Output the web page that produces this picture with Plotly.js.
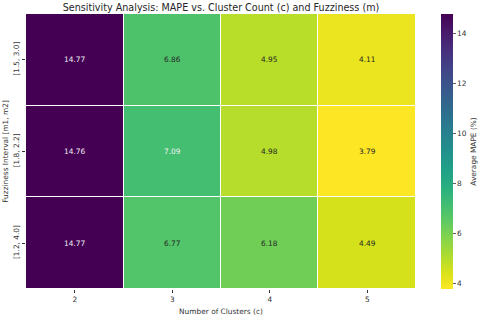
<!DOCTYPE html>
<html><head><meta charset="utf-8">
<script src="https://cdn.plot.ly/plotly-3.0.1.min.js"></script>
<style>html,body{margin:0;padding:0;background:#fff}#plot{width:480px;height:316px}</style>
</head><body><div id="plot"></div>
<script>
const clusters = ['2', '3', '4', '5'];
const intervals = ['[1.5, 3.0]', '[1.8, 2.2]', '[1.2, 4.0]'];
const mape = [
  [14.77, 6.86, 4.95, 4.11],
  [14.76, 7.09, 4.98, 3.79],
  [14.77, 6.77, 6.18, 4.49]
];
const textColors = [
  ['#f0eaf0', '#262626', '#262626', '#262626'],
  ['#f0eaf0', '#f0f0f0', '#262626', '#262626'],
  ['#f0eaf0', '#262626', '#262626', '#262626']
];
const annotations = [];
intervals.forEach((iv, i) => clusters.forEach((c, j) => {
  annotations.push({x: j, y: i, xref: 'x', yref: 'y', text: mape[i][j].toFixed(2), showarrow: false,
    font: {size: 7.4, color: textColors[i][j], family: 'DejaVu Sans'}});
}));
const trace = {
  type: 'heatmap', x: clusters, y: intervals, z: mape,
  colorscale: 'Viridis', reversescale: true, zmin: 3.79, zmax: 14.77,
  xgap: 1, ygap: 1, hoverinfo: 'skip',
  colorbar: {x: 0.914, xanchor: 'left', xpad: 0, ypad: 0, y: 0.5, yanchor: 'middle', len: 1, lenmode: 'fraction',
    thickness: 12, outlinewidth: 0, ticks: 'outside', ticklen: 3, tickwidth: 0.8, tickcolor: '#333',
    tickvals: [4, 6, 8, 10, 12, 14], tickfont: {size: 7.4, color: '#333', family: 'DejaVu Sans'},
    title: {text: 'Average MAPE (%)', side: 'right', font: {size: 7.4, color: '#333', family: 'DejaVu Sans'}}}
};
const layout = {
  width: 480, height: 316, margin: {l: 26, r: 0, t: 14, b: 27},
  paper_bgcolor: 'white', plot_bgcolor: 'white',
  font: {family: 'DejaVu Sans', color: '#333'},
  title: {text: 'Sensitivity Analysis: MAPE vs. Cluster Count (c) and Fuzziness (m)', x: 0.4604, xanchor: 'center', y: 0.976, yanchor: 'middle',
    font: {size: 9.6, color: '#262626', family: 'DejaVu Sans'}},
  xaxis: {type: 'category', domain: [0, 0.859], ticks: 'outside', ticklen: 3, tickcolor: '#333', showgrid: false, zeroline: false, showline: false,
    tickfont: {size: 7.4, color: '#333'}, title: {text: 'Number of Clusters (c)', standoff: 5, font: {size: 7.4, color: '#333'}}},
  yaxis: {type: 'category', autorange: 'reversed', ticks: 'outside', ticklen: 3, tickcolor: '#333', showgrid: false, zeroline: false, showline: false,
    tickangle: -90, tickfont: {size: 7.4, color: '#333'}, title: {text: 'Fuzziness Interval [m1, m2]', standoff: 2, font: {size: 7.4, color: '#333'}}},
  annotations: annotations
};
Plotly.newPlot('plot', [trace], layout, {displayModeBar: false, staticPlot: true});
</script></body></html>
